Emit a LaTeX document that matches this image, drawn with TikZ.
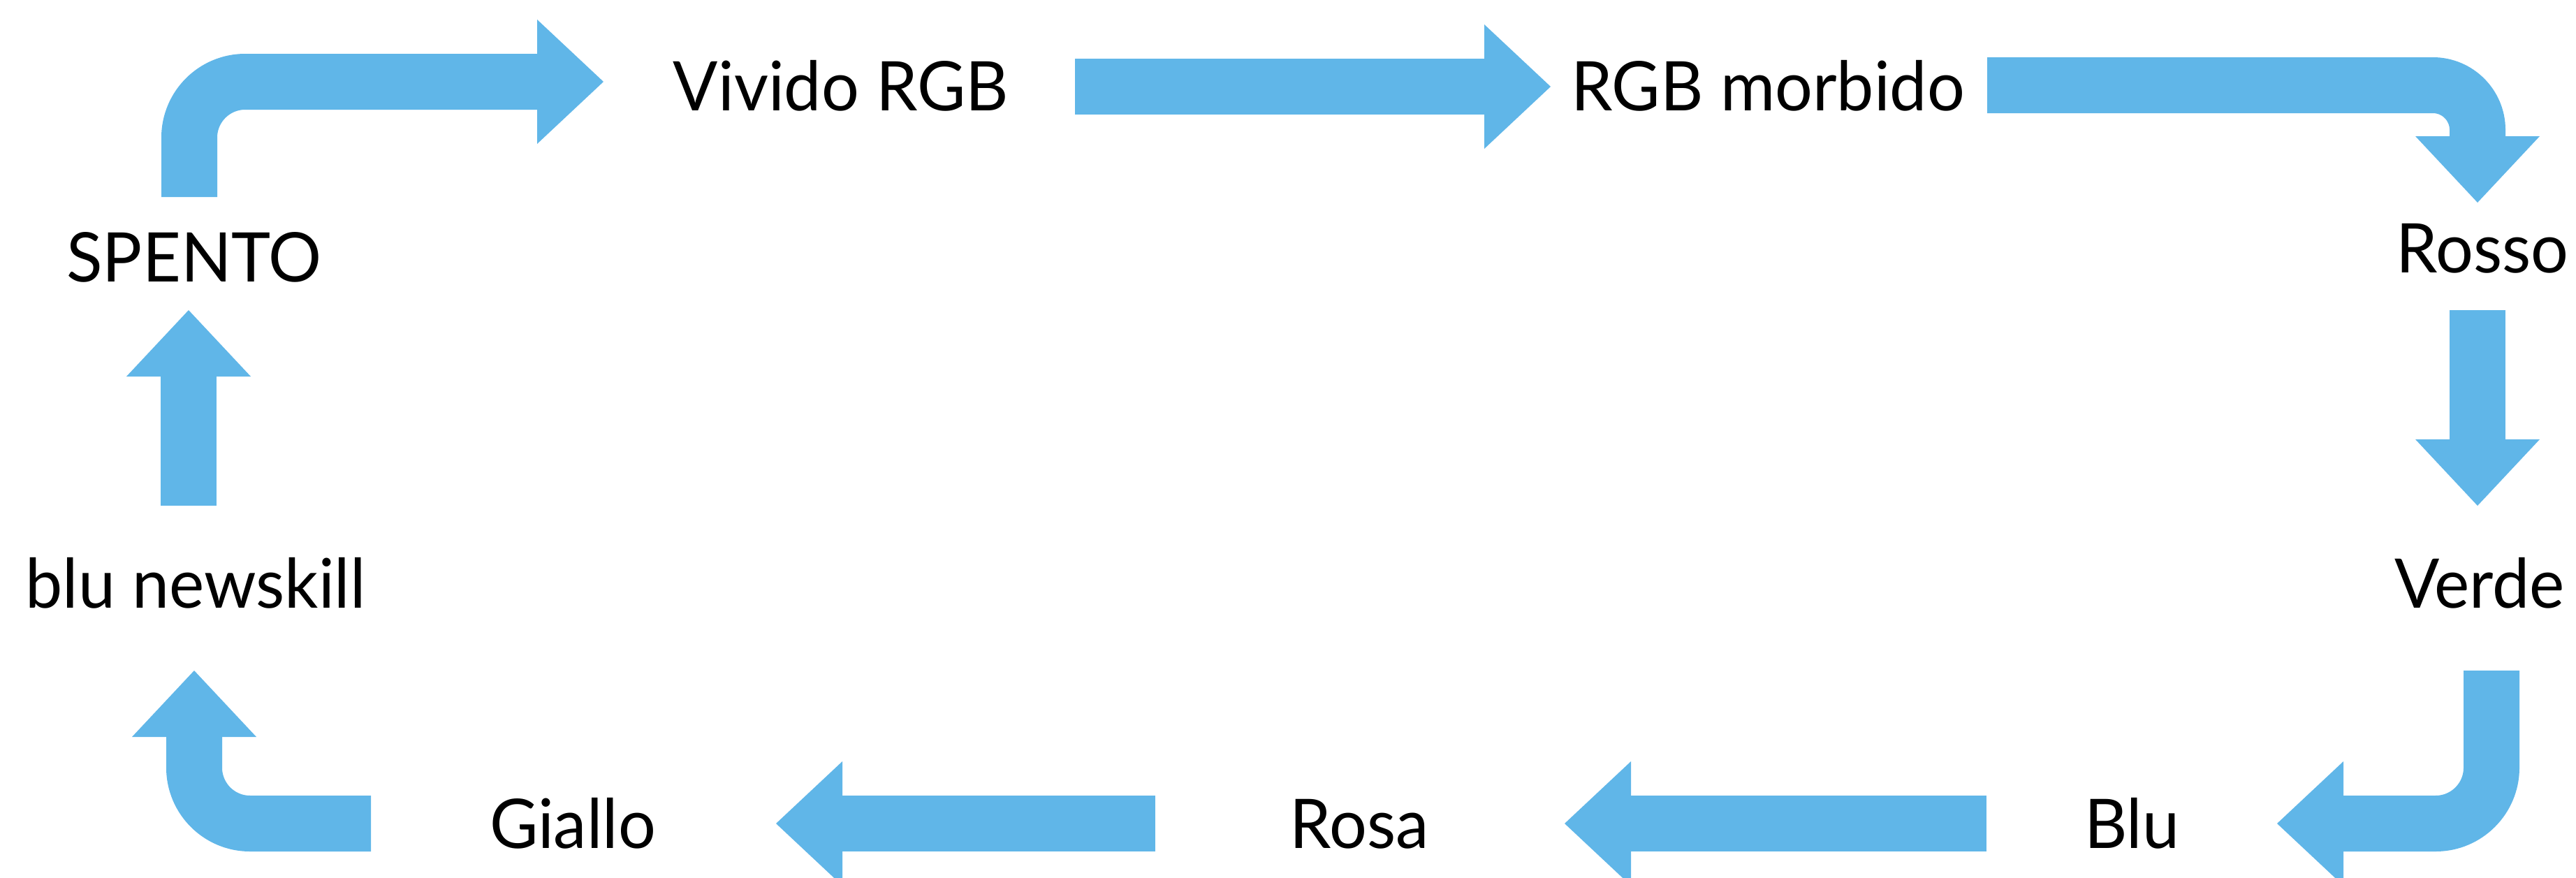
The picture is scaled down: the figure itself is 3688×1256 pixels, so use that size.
\documentclass[tikz,border=0pt]{standalone}
\usepackage{fontspec}
\setmainfont{Lato}[FakeStretch=0.97]
\usetikzlibrary{arrows.meta}
\definecolor{arrowblue}{RGB}{96,182,232}
\tikzset{
  label/.style={anchor=base, inner sep=0pt, font=\fontsize{98}{110}\selectfont, text=black},
  blockarrow/.style={draw=arrowblue, line width=80pt, line cap=butt,
    -{Triangle[width=178pt,length=95pt,line width=0pt,fill=arrowblue,color=arrowblue]}}
}
\begin{document}
\begin{tikzpicture}[x=1pt,y=-1pt]
\clip (0,0) rectangle (3688,1256);
\fill[white] (0,0) rectangle (3688,1256);
% text nodes
\node[label] (spento)  at (278,403)  {SPENTO};
\node[label] (vivido)  at (1204,158) {Vivido RGB};
\node[label] (morbido) at (2531,158) {RGB morbido};
\node[label] (rosso)   at (3554,390) {Rosso};
\node[label] (verde)   at (3550,870) {Verde};
\node[label] (blu)     at (3052,1214) {Blu};
\node[label] (rosa)    at (1946,1214) {Rosa};
\node[label] (giallo)  at (820,1214) {Giallo};
\node[label] (newskill) at (280,870) {blu newskill};
% connector end points
\coordinate (a0) at (271,282);  \coordinate (a1) at (271,117);  \coordinate (a2) at (864,117);
\coordinate (b0) at (1539,124); \coordinate (b1) at (2220,124);
\coordinate (c0) at (2845,122); \coordinate (c1) at (3547,122); \coordinate (c2) at (3547,290);
\coordinate (d0) at (3547,444); \coordinate (d1) at (3547,724);
\coordinate (e0) at (3567,960); \coordinate (e1) at (3567,1179); \coordinate (e2) at (3260,1179);
\coordinate (f0) at (2844,1179); \coordinate (f1) at (2240,1179);
\coordinate (g0) at (1654,1179); \coordinate (g1) at (1111,1179);
\coordinate (h0) at (531,1179); \coordinate (h1) at (278,1179); \coordinate (h2) at (278,960);
\coordinate (i0) at (270,724);  \coordinate (i1) at (270,444);
% connectors
\draw[blockarrow, rounded corners=80pt] (a0) -- (a1) -- (a2);
\draw[blockarrow] (b0) -- (b1);
\draw[blockarrow, rounded corners=64pt] (c0) -- (c1) -- (c2);
\draw[blockarrow] (d0) -- (d1);
\draw[blockarrow, rounded corners=80pt] (e0) -- (e1) -- (e2);
\draw[blockarrow] (f0) -- (f1);
\draw[blockarrow] (g0) -- (g1);
\draw[blockarrow, rounded corners=80pt] (h0) -- (h1) -- (h2);
\draw[blockarrow] (i0) -- (i1);
\end{tikzpicture}
\end{document}
